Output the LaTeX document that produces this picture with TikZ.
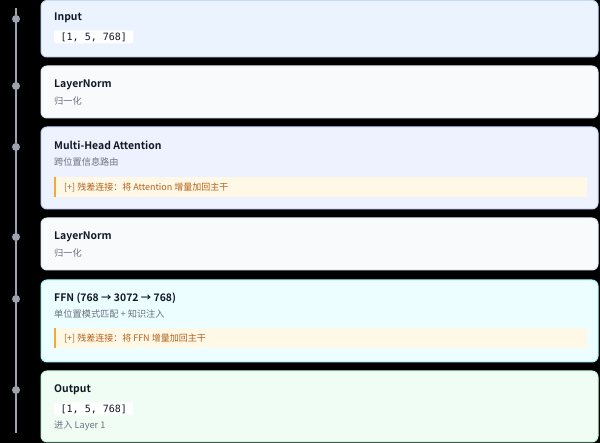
\documentclass[tikz,border=0pt]{standalone}
\usepackage{fontspec}
\setmainfont{Noto Sans CJK SC}[BoldFont={Noto Sans CJK SC Bold}]
\setmonofont{DejaVu Sans Mono}
\definecolor{ink}{HTML}{111827}
\definecolor{subgray}{HTML}{6B7280}
\definecolor{linegray}{HTML}{9CA3AF}
\definecolor{inputfill}{HTML}{EBF4FE}
\definecolor{inputline}{HTML}{C6DBF6}
\definecolor{normfill}{HTML}{F8FAFC}
\definecolor{normline}{HTML}{E2E8F0}
\definecolor{attnfill}{HTML}{EEF2FF}
\definecolor{attnline}{HTML}{CDD6FB}
\definecolor{ffnfill}{HTML}{ECFEFF}
\definecolor{ffnline}{HTML}{A5F3FC}
\definecolor{outfill}{HTML}{F0FDF4}
\definecolor{outline}{HTML}{BBF7D0}
\definecolor{residfill}{HTML}{FFF8E6}
\definecolor{residbar}{HTML}{F0A93A}
\definecolor{residtext}{HTML}{B45F1A}
\begin{document}
\begin{tikzpicture}[x=1pt,y=-1pt,
card/.style={rounded corners=6pt,line width=1pt},
ttl/.style={anchor=west,inner sep=0pt,font=\bfseries\fontsize{10.4}{12}\selectfont,text=ink},
sub/.style={anchor=west,inner sep=0pt,font=\fontsize{9.2}{11}\selectfont,text=subgray},
shape box/.style={anchor=west,fill=white,rounded corners=2pt,inner xsep=6.5pt,inner ysep=0pt,minimum height=13pt,font=\ttfamily\fontsize{10}{12}\selectfont,text=ink},
resid/.style={anchor=west,inner sep=0pt,font=\fontsize{9}{10}\selectfont,text=residtext},
dot/.style={circle,fill=linegray,inner sep=0pt,minimum size=8pt}]
\fill[black](0,0)rectangle(600,443);
\useasboundingbox(0,0)rectangle(600,443);
% timeline
\coordinate(lineTop) at (16,8);
\coordinate(lineBot) at (16,433);
\draw[line width=2pt,linegray](lineTop)--(lineBot);
% input
\draw[card,fill=inputfill,draw=inputline](41,0.5)rectangle(598,57);
\node[dot](inDot) at (16,19){};
\node[ttl](inTitle) at (54,18){Input};
\node[shape box](inShape) at (54,37){[1, 5, 768]};
% layernorm 1
\draw[card,fill=normfill,draw=normline](41,66)rectangle(598,118);
\node[dot](lnaDot) at (16,86){};
\node[ttl](lnaTitle) at (54,85){LayerNorm};
\node[sub](lnaSub) at (54,101){归一化};
% attention
\draw[card,fill=attnfill,draw=attnline](41,127)rectangle(598,209);
\node[dot](attnDot) at (16,147){};
\node[ttl](attnTitle) at (54,145){Multi-Head Attention};
\node[sub](attnSub) at (54,162){跨位置信息路由};
\fill[residfill](54,177)rectangle(587,197);
\fill[residbar](54,177)rectangle(56,197);
\node[resid](attnRes) at (64,187){[+] 残差连接：将 Attention 增量加回主干};
% layernorm 2
\draw[card,fill=normfill,draw=normline](41,218)rectangle(598,270);
\node[dot](lnbDot) at (16,237){};
\node[ttl](lnbTitle) at (54,237){LayerNorm};
\node[sub](lnbSub) at (54,253){归一化};
% ffn
\draw[card,fill=ffnfill,draw=ffnline](41,280)rectangle(598,362);
\node[dot](ffnDot) at (16,299){};
\node[ttl](ffnTitle) at (54,298){FFN (768 → 3072 → 768)};
\node[sub](ffnSub) at (54,314){单位置模式匹配 + 知识注入};
\fill[residfill](54,328)rectangle(587,348);
\fill[residbar](54,328)rectangle(56,348);
\node[resid](ffnRes) at (64,338){[+] 残差连接：将 FFN 增量加回主干};
% output
\draw[card,fill=outfill,draw=outline](41,371)rectangle(598,442);
\node[dot](outDot) at (16,390){};
\node[ttl](outTitle) at (54,390){Output};
\node[shape box](outShape) at (54,409){[1, 5, 768]};
\node[sub](outSub) at (54,426){进入 Layer 1};
\end{tikzpicture}
\end{document}
